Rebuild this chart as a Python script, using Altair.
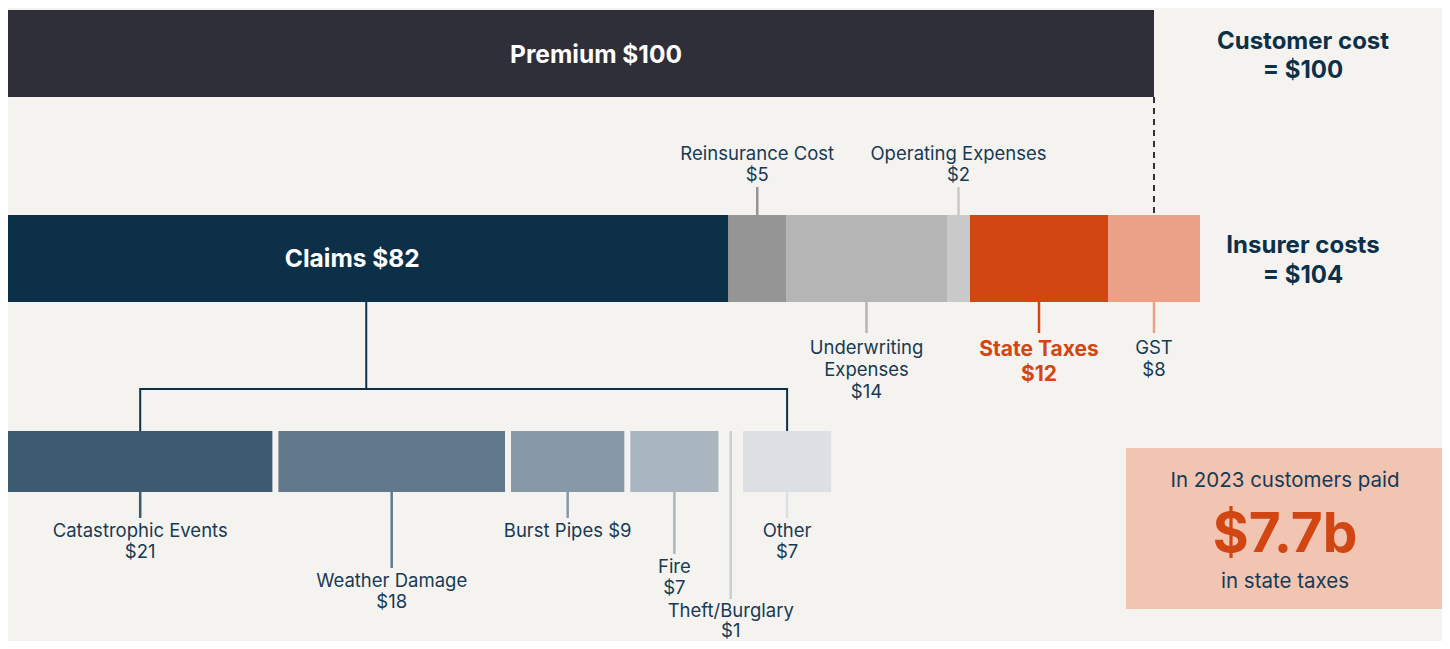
import altair as alt
import pandas as pd

# ---------------- data ----------------
PREMIUM_LABEL = "Premium"
PREMIUM_VALUE = 100

INSURER_NAMES = ["Claims", "Reinsurance Cost", "Underwriting Expenses",
                 "Operating Expenses", "State Taxes", "GST"]
INSURER_LABELS = ["Claims", "Reinsurance Cost", "Underwriting\nExpenses",
                  "Operating Expenses", "State Taxes", "GST"]
INSURER_BAR_VALUES = [63, 5, 14, 2, 12, 8]      # widths as drawn
INSURER_SHOWN_VALUES = [82, 5, 14, 2, 12, 8]    # values as printed
INSURER_COLORS = ["#0d3049", "#959595", "#b5b5b5", "#c9c9c9", "#d24614", "#eaa186"]

CLAIM_NAMES = ["Catastrophic Events", "Weather Damage", "Burst Pipes",
               "Fire", "Theft/Burglary", "Other"]
CLAIM_VALUES = [21, 18, 9, 7, 1, 7]
CLAIM_COLORS = ["#3c5b71", "#62788b", "#8798a6", "#a9b6bf", "#c9d1d7", "#dce0e4"]

CALLOUT_LINES = ["In 2023 customers paid", "$7.7b", "in state taxes"]

# ---------------- styles ----------------
W, H = 1434, 633
FONT = "Inter"
BG = "#f5f3ef"
TEXT = "#173a54"
NAVY = "#0d3049"
PREMIUM_COLOR = "#2f2f39"
ORANGE = "#d24614"
CALLOUT_BG = "#f2c5b3"
LABEL_SIZE = 18.5
BIG_BOLD = 24.5
SIDE_BOLD = 24

PX_MAIN = 11.5          # pixels per dollar, top rows
PX_SUB = 12.59          # pixels per dollar, claims breakdown row
SUB_GAP = 6 / PX_SUB    # gap between breakdown bars (in dollar units)

main_scale = alt.Scale(domain=[4 / PX_MAIN, (W + 4) / PX_MAIN], nice=False, zero=False)
sub_scale = alt.Scale(domain=[0, W / PX_SUB], nice=False, zero=False)

# ---------------- tables ----------------
prem = pd.DataFrame({"start": [0], "end": [PREMIUM_VALUE]})
prem["mid"] = (prem["start"] + prem["end"]) / 2
prem["label"] = f"{PREMIUM_LABEL} ${PREMIUM_VALUE}"

ins = pd.DataFrame({"name": INSURER_NAMES, "lab": INSURER_LABELS,
                    "value": INSURER_BAR_VALUES, "shown": INSURER_SHOWN_VALUES,
                    "color": INSURER_COLORS})
ins["end"] = ins["value"].cumsum()
ins["start"] = ins["end"] - ins["value"]
ins["mid"] = (ins["start"] + ins["end"]) / 2
ins["label"] = [f"{l}\n${v}" for l, v in zip(ins["lab"], ins["shown"])]
ins["inside"] = [f"{l} ${v}" for l, v in zip(ins["lab"], ins["shown"])]

sub = pd.DataFrame({"name": CLAIM_NAMES, "value": CLAIM_VALUES, "color": CLAIM_COLORS})
sub["start"] = sub["value"].cumsum() - sub["value"] + sub.index * SUB_GAP
sub["end"] = sub["start"] + sub["value"]
sub["mid"] = (sub["start"] + sub["end"]) / 2
sub["label"] = [f"{n} ${v}" if n == "Burst Pipes" else f"{n}\n${v}"
                for n, v in zip(sub["name"], sub["value"])]

bracket = pd.DataFrame({"x0": [sub["mid"].iloc[0]], "x1": [sub["mid"].iloc[-1]]})
bracket_ends = sub.iloc[[0, len(sub) - 1]]

one = pd.DataFrame({"k": [0]})


def inlist(names):
    return alt.FieldOneOfPredicate(field="name", oneOf=names)


# ---------------- main layers ----------------
mx = lambda f: alt.X(f, scale=main_scale, axis=None)

premium_bar = alt.Chart(prem).mark_rect(color=PREMIUM_COLOR).encode(
    x=mx("start:Q"), x2="end:Q", y=alt.value(2), y2=alt.value(89))

premium_text = alt.Chart(prem).mark_text(
    font=FONT, fontSize=BIG_BOLD, fontWeight="bold", color="white", dx=17, baseline="middle"
).encode(x=mx("mid:Q"), y=alt.value(48), text="label:N")

dash = alt.Chart(prem).mark_rule(color=PREMIUM_COLOR, strokeWidth=2, strokeDash=[6, 5]).encode(
    x=mx("end:Q"), y=alt.value(89), y2=alt.value(206))

ins_bars = alt.Chart(ins).mark_rect().encode(
    x=mx("start:Q"), x2="end:Q", y=alt.value(207), y2=alt.value(294),
    color=alt.Color("color:N", scale=None))

claims_text = alt.Chart(ins).transform_filter(inlist(["Claims"])).mark_text(
    font=FONT, fontSize=BIG_BOLD, fontWeight="bold", color="white", dx=-14, baseline="middle"
).encode(x=mx("mid:Q"), y=alt.value(252), text="inside:N")

above = ["Reinsurance Cost", "Operating Expenses"]
below = ["Underwriting Expenses", "State Taxes", "GST"]

above_ticks = alt.Chart(ins).transform_filter(inlist(above)).mark_rule(strokeWidth=2.5).encode(
    x=mx("mid:Q"), y=alt.value(179), y2=alt.value(207),
    color=alt.Color("color:N", scale=None))

above_text = alt.Chart(ins).transform_filter(inlist(above)).mark_text(
    font=FONT, fontSize=LABEL_SIZE, color=TEXT, lineBreak="\n", lineHeight=21, baseline="middle"
).encode(x=mx("mid:Q"), y=alt.value(146), text="label:N")

below_ticks = alt.Chart(ins).transform_filter(inlist(below)).mark_rule(strokeWidth=2.5).encode(
    x=mx("mid:Q"), y=alt.value(294), y2=alt.value(325),
    color=alt.Color("color:N", scale=None))

below_text = alt.Chart(ins).transform_filter(inlist(["Underwriting Expenses", "GST"])).mark_text(
    font=FONT, fontSize=LABEL_SIZE, color=TEXT, lineBreak="\n", lineHeight=22, baseline="middle"
).encode(x=mx("mid:Q"), y=alt.value(340), text="label:N")

tax_text = alt.Chart(ins).transform_filter(inlist(["State Taxes"])).mark_text(
    font=FONT, fontSize=21, fontWeight="bold", color=ORANGE, lineBreak="\n", lineHeight=25,
    baseline="middle"
).encode(x=mx("mid:Q"), y=alt.value(342), text="label:N")

claims_stem = alt.Chart(ins).transform_filter(inlist(["Claims"])).mark_rule(
    color=NAVY, strokeWidth=2).encode(
    x=mx("mid:Q"), y=alt.value(293), y2=alt.value(382))

customer_text = alt.Chart(one).mark_text(
    font=FONT, fontSize=SIDE_BOLD, fontWeight="bold", color=NAVY, lineBreak="\n", lineHeight=29,
    baseline="middle"
).encode(x=alt.value(1295), y=alt.value(34),
         text=alt.value(f"Customer cost\n= ${PREMIUM_VALUE}"))

insurer_text = alt.Chart(one).mark_text(
    font=FONT, fontSize=SIDE_BOLD, fontWeight="bold", color=NAVY, lineBreak="\n", lineHeight=30,
    baseline="middle"
).encode(x=alt.value(1295), y=alt.value(238),
         text=alt.value(f"Insurer costs\n= ${sum(INSURER_BAR_VALUES)}"))

callout_box = alt.Chart(one).mark_rect(color=CALLOUT_BG).encode(
    x=alt.value(1118), x2=alt.value(W), y=alt.value(440), y2=alt.value(601))

callout_1 = alt.Chart(one).mark_text(font=FONT, fontSize=20.5, color=TEXT, baseline="middle").encode(
    x=alt.value(1277), y=alt.value(473), text=alt.value(CALLOUT_LINES[0]))
callout_2 = alt.Chart(one).mark_text(font=FONT, fontSize=55, fontWeight="bold", color=ORANGE,
                                     baseline="middle").encode(
    x=alt.value(1277), y=alt.value(527), text=alt.value(CALLOUT_LINES[1]))
callout_3 = alt.Chart(one).mark_text(font=FONT, fontSize=20.5, color=TEXT, baseline="middle").encode(
    x=alt.value(1277), y=alt.value(574), text=alt.value(CALLOUT_LINES[2]))

main = alt.layer(premium_bar, premium_text, dash, ins_bars, claims_text,
                 above_ticks, above_text, below_ticks, below_text, tax_text,
                 claims_stem, customer_text, insurer_text,
                 callout_box, callout_1, callout_2, callout_3)

# ---------------- claims breakdown layers ----------------
sx = lambda f: alt.X(f, scale=sub_scale, axis=None)

sub_bars = alt.Chart(sub).transform_filter("datum.name != 'Theft/Burglary'").mark_rect().encode(
    x=sx("start:Q"), x2="end:Q", y=alt.value(423), y2=alt.value(484),
    color=alt.Color("color:N", scale=None))

theft_rule = alt.Chart(sub).transform_filter(inlist(["Theft/Burglary"])).mark_rule(
    strokeWidth=2.5).encode(x=sx("mid:Q"), y=alt.value(423), y2=alt.value(591),
                            color=alt.Color("color:N", scale=None))

bracket_h = alt.Chart(bracket).mark_rule(color=NAVY, strokeWidth=2).encode(
    x=sx("x0:Q"), x2="x1:Q", y=alt.value(381))
bracket_v = alt.Chart(bracket_ends).mark_rule(color=NAVY, strokeWidth=2).encode(
    x=sx("mid:Q"), y=alt.value(380), y2=alt.value(423))

sub_layers = [sub_bars, theft_rule, bracket_h, bracket_v]

levels = [
    (["Catastrophic Events", "Burst Pipes", "Other"], 510, 523),
    (["Weather Damage"], 560, 573),
    (["Fire"], 546, 559),
]
for names, tick_end, text_y in levels:
    sub_layers.append(
        alt.Chart(sub).transform_filter(inlist(names)).mark_rule(strokeWidth=2.5).encode(
            x=sx("mid:Q"), y=alt.value(484), y2=alt.value(tick_end),
            color=alt.Color("color:N", scale=None)))
    sub_layers.append(
        alt.Chart(sub).transform_filter(inlist(names)).mark_text(
            font=FONT, fontSize=LABEL_SIZE, color=TEXT, lineBreak="\n", lineHeight=21,
            baseline="middle"
        ).encode(x=sx("mid:Q"), y=alt.value(text_y), text="label:N"))

sub_layers.append(
    alt.Chart(sub).transform_filter(inlist(["Theft/Burglary"])).mark_text(
        font=FONT, fontSize=LABEL_SIZE, color=TEXT, lineBreak="\n", lineHeight=19.5,
        baseline="middle"
    ).encode(x=sx("mid:Q"), y=alt.value(603), text="label:N"))

breakdown = alt.layer(*sub_layers)

chart = alt.layer(main, breakdown).resolve_scale(x="independent").properties(
    width=W, height=H, padding=0, background=BG,
    autosize=alt.AutoSizeParams(type="none")
).configure_view(stroke=None)

chart.save("out.html", embed_options={"renderer": "svg", "actions": False})
